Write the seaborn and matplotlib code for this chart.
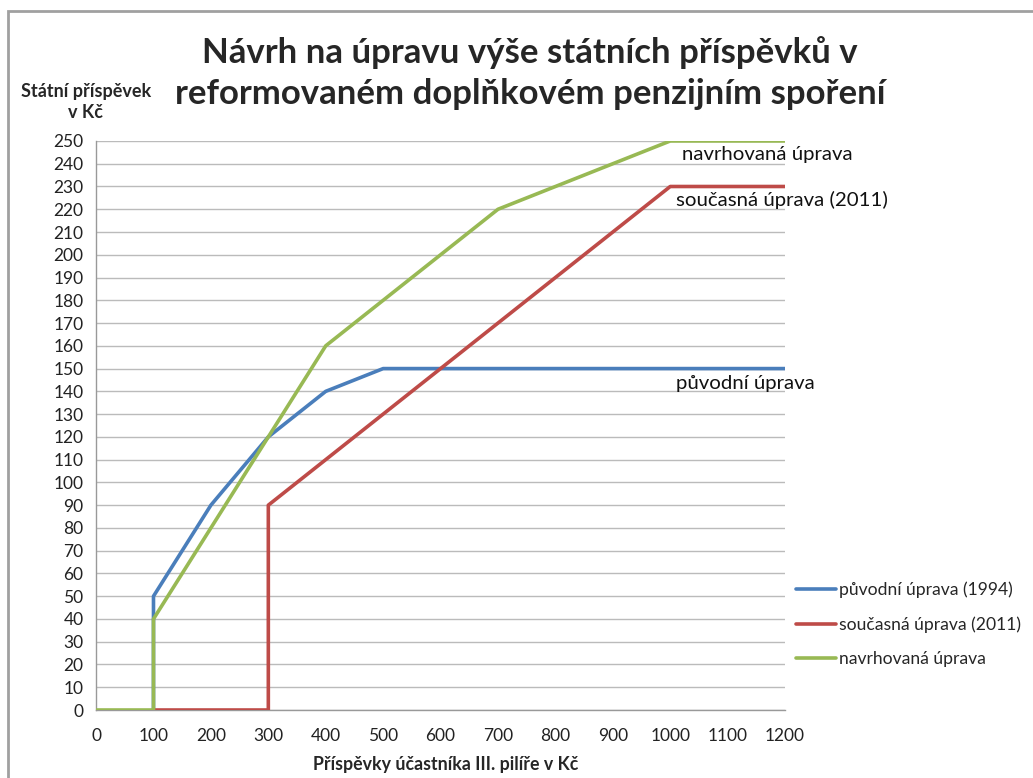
import matplotlib.pyplot as plt
import matplotlib.patches as mpatches
import seaborn as sns
import pandas as pd

# data (x = participant contribution, y = state contribution)
puvodni_x = [100, 100, 200, 300, 400, 500, 1200]
puvodni_y = [0, 50, 90, 120, 140, 150, 150]

soucasna_x = [100, 300, 300, 400, 500, 600, 700, 800, 900, 1000, 1200]
soucasna_y = [0, 0, 90, 110, 130, 150, 170, 190, 210, 230, 230]

navrh_x = [0, 100, 100, 200, 300, 400, 500, 600, 700, 800, 900, 1000, 1200]
navrh_y = [0, 0, 40, 80, 120, 160, 180, 200, 220, 230, 240, 250, 250]

series_names = ["původní úprava (1994)", "současná úprava (2011)", "navrhovaná úprava"]
series_colors = ["#4A7EBB", "#BE4B48", "#98B954"]

x_ticks = list(range(0, 1201, 100))
y_ticks = list(range(0, 251, 10))

sns.set_style("white")
plt.rcParams["font.family"] = ["Lato", "DejaVu Sans"]

fig = plt.figure(figsize=(10.33, 7.78), dpi=100)
ax = fig.add_axes([0.093, 0.0874, 0.667, 0.7314])

frames = [
    pd.DataFrame({"x": puvodni_x, "y": puvodni_y}),
    pd.DataFrame({"x": soucasna_x, "y": soucasna_y}),
    pd.DataFrame({"x": navrh_x, "y": navrh_y}),
]
for df, name, col in zip(frames, series_names, series_colors):
    sns.lineplot(data=df, x="x", y="y", sort=False, estimator=None, ax=ax,
                 color=col, linewidth=2.6, label=name, zorder=3)

ax.set_xlim(0, 1200)
ax.set_ylim(0, 250)
ax.set_xticks(x_ticks)
ax.set_yticks(y_ticks)
ax.tick_params(axis="both", labelsize=12.5, colors="#868686", labelcolor="#222222",
               length=5, width=1, direction="out", pad=4)
ax.tick_params(axis="x", pad=8)
ax.grid(axis="y", color="#BBBBBB", linewidth=1)
ax.grid(axis="x", visible=False)
for side in ["top", "right"]:
    ax.spines[side].set_visible(False)
for side in ["left", "bottom"]:
    ax.spines[side].set_color("#999999")
    ax.spines[side].set_linewidth(1)
ax.set_xlabel("")
ax.set_ylabel("")

# inline labels on the right end
ax.text(1020, 244, "navrhovaná úprava", fontsize=14.7, va="center", ha="left", color="#111111")
ax.text(1010, 224, "současná úprava (2011)", fontsize=14.7, va="center", ha="left", color="#111111")
ax.text(1010, 143.5, "původní úprava", fontsize=14.7, va="center", ha="left", color="#111111")

leg = ax.legend(loc="center left", bbox_to_anchor=(0.99, 0.151), frameon=False,
                fontsize=12.6, handlelength=2.3, handletextpad=0.15, labelspacing=1.05,
                borderaxespad=0.6)

fig.text(0.513, 0.906, "Návrh na úpravu výše státních příspěvků v\nreformovaném doplňkovém penzijním spoření",
         ha="center", va="center", fontsize=25, fontweight="bold", linespacing=1.34)
fig.text(0.083, 0.869, "Státní příspěvek\nv Kč", ha="center", va="center",
         fontsize=13, fontweight="bold", linespacing=1.3)
fig.text(0.431, 0.017, "Příspěvky účastníka III. pilíře v Kč", ha="center", va="center",
         fontsize=12.8, fontweight="bold")

# outer chart border (open at right and bottom like the source crop)
fig.add_artist(mpatches.Rectangle((0.0075, -0.05), 1.1, 1.036, transform=fig.transFigure,
                                  fill=False, edgecolor="#A0A0A0", linewidth=2))

fig.savefig("out.png", dpi=100)
